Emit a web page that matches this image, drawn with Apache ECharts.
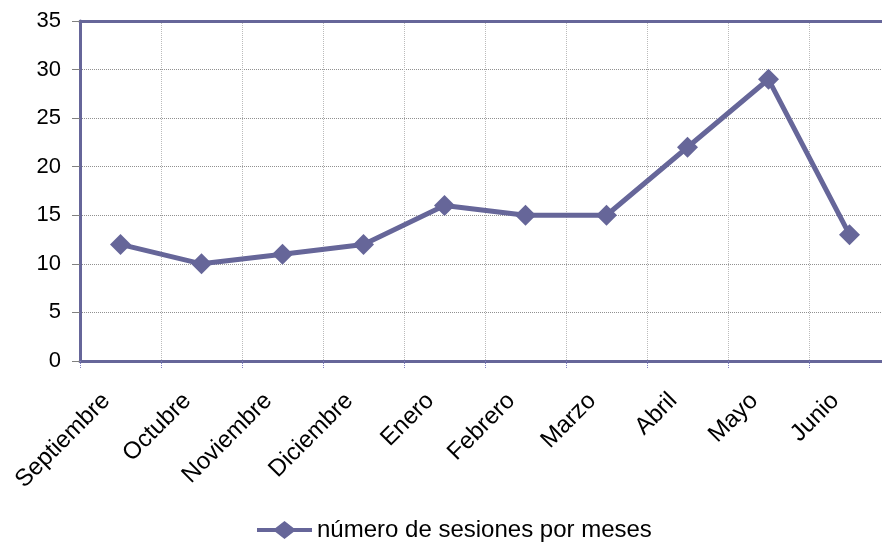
<!DOCTYPE html>
<html><head><meta charset="utf-8">
<script src="https://cdn.jsdelivr.net/npm/echarts@6/dist/echarts.min.js"></script>
<style>html,body{margin:0;padding:0;background:#fff;overflow:hidden}#c{width:882px;height:548px}</style>
</head><body><div id="c"></div>
<script>
const categories = ['Septiembre','Octubre','Noviembre','Diciembre','Enero','Febrero','Marzo','Abril','Mayo','Junio'];
const sesiones = [12, 10, 11, 12, 16, 15, 15, 22, 29, 13];
const seriesName = 'número de sesiones por meses';

const chart = echarts.init(document.getElementById('c'));
const col = '#666699';
chart.setOption({
  animation: false,
  grid: {left: 80, top: 21, right: -8, bottom: 187, outerBoundsMode: 'none', containLabel: false, show: false},
  legend: {
    top: 513, left: 252, itemWidth: 55, itemHeight: 18, itemGap: 8,
    textStyle: {fontFamily: 'Liberation Sans, Arial', fontSize: 24, color: '#000'},
    data: [{name: seriesName, icon: 'path://M0,7 L18.5,7 L27.5,0 L36.5,7 L55,7 L55,11 L36.5,11 L27.5,18 L18.5,11 L0,11 Z'}]
  },
  xAxis: [{
    type: 'category', data: categories, boundaryGap: true,
    axisLine: {lineStyle: {color: col, width: 3}},
    axisTick: {show: true, length: 7, lineStyle: {color: '#8080c0', type: 'dotted'}},
    axisLabel: {rotate: 45, fontFamily: 'Liberation Sans, Arial', fontSize: 24, color: '#000', margin: 22, interval: 0, padding: [0, 20, 0, 0]},
    splitLine: {show: true, lineStyle: {color: '#bbbbbb', type: 'dotted', width: 1}}
  }, {
    type: 'category', data: categories, position: 'top', boundaryGap: true,
    axisLine: {show: true, lineStyle: {color: col, width: 3}},
    axisTick: {show: false}, axisLabel: {show: false}, splitLine: {show: false}
  }],
  yAxis: {
    type: 'value', min: 0, max: 35, interval: 5,
    axisLine: {show: true, lineStyle: {color: col, width: 3}},
    axisTick: {show: true, length: 8, lineStyle: {color: '#808080'}},
    axisLabel: {fontFamily: 'Liberation Sans, Arial', fontSize: 22, color: '#000', margin: 19},
    splitLine: {show: true, lineStyle: {color: '#909090', type: 'dotted', width: 1}}
  },
  series: [{
    name: seriesName, type: 'line', data: sesiones, xAxisIndex: 0,
    symbol: 'diamond', symbolSize: 21,
    lineStyle: {color: col, width: 5},
    itemStyle: {color: col}
  }]
});
</script></body></html>
